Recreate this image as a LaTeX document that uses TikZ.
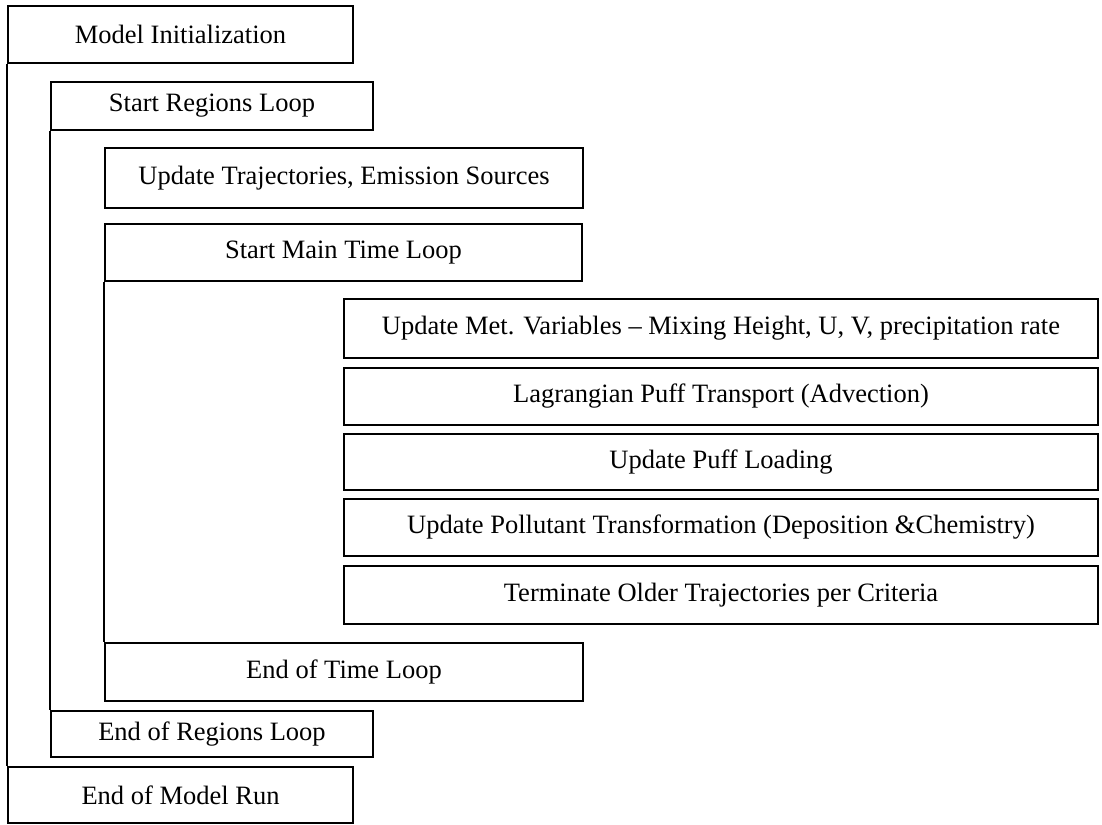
\documentclass[tikz,border=0pt]{standalone}
\usepackage{fontspec}
\setmainfont{Liberation Serif}
\usepackage{tikz}

\tikzset{
  stagebox/.style={draw, line width=2pt, anchor=north west, inner sep=0pt,
    font=\fontsize{26.5}{30}\selectfont},
  loopline/.style={line width=2pt}
}

\begin{document}
\begin{tikzpicture}[x=1pt,y=-1pt]
  \useasboundingbox (0,0) rectangle (1102,824);

  % Model level
  \node[stagebox, minimum width=345pt, minimum height=57pt] (init) at (7,5) {Model Initialization};
  \node[stagebox, minimum width=345pt, minimum height=56pt] (endrun) at (7,766) {End of Model Run};

  % Regions loop
  \node[stagebox, minimum width=322pt, minimum height=48pt] (startreg) at (50,81) {Start Regions Loop};
  \node[stagebox, minimum width=322pt, minimum height=46pt] (endreg) at (50,710) {End of Regions Loop};

  % Trajectories and main time loop
  \node[stagebox, minimum width=478pt, minimum height=60pt] (updtraj) at (104,147) {Update Trajectories, Emission Sources};
  \node[stagebox, minimum width=477pt, minimum height=57pt] (startmain) at (104,223) {Start Main Time Loop};
  \node[stagebox, minimum width=478pt, minimum height=58pt] (endtime) at (104,642) {End of Time Loop};

  % Steps inside the time loop
  \node[stagebox, minimum width=754pt, minimum height=59pt] (metvar) at (343,298) {Update Met. Variables -- Mixing Height, U, V, precipitation rate};
  \node[stagebox, minimum width=754pt, minimum height=57pt] (transport) at (343,367) {Lagrangian Puff Transport (Advection)};
  \node[stagebox, minimum width=754pt, minimum height=56pt] (loading) at (343,433) {Update Puff Loading};
  \node[stagebox, minimum width=754pt, minimum height=57pt] (chem) at (343,498) {Update Pollutant Transformation (Deposition \&Chemistry)};
  \node[stagebox, minimum width=754pt, minimum height=58pt] (terminate) at (343,565) {Terminate Older Trajectories per Criteria};

  % Left sides of the loops
  \draw[loopline] (init.south west) -- (endrun.north west);
  \draw[loopline] (startreg.south west) -- (endreg.north west);
  \draw[loopline] (startmain.south west) -- (endtime.north west);
\end{tikzpicture}
\end{document}
